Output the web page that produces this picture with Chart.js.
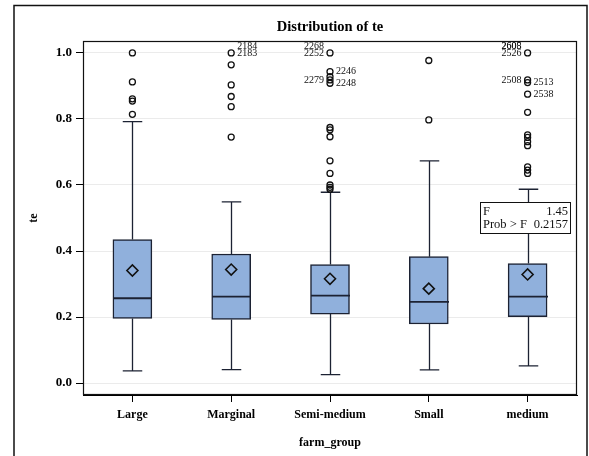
<!DOCTYPE html>
<html>
<head>
<meta charset="utf-8">
<script src="https://cdn.jsdelivr.net/npm/chart.js@4/dist/chart.umd.min.js"></script>
<style>
	html, body { margin: 0; padding: 0; background: #fff; }
	#chart-box { width: 589px; height: 456px; position: relative; }
</style>
</head>
<body>
<div id="chart-box"><canvas id="te-chart"></canvas></div>
<script>
// data
const categories   = ['Large', 'Marginal', 'Semi-medium', 'Small', 'medium'];
const q1Values     = [0.196, 0.193, 0.209, 0.179, 0.201];
const medianValues = [0.257, 0.262, 0.265, 0.246, 0.262];
const q3Values     = [0.435, 0.391, 0.359, 0.383, 0.362];
const meanValues   = [0.341, 0.344, 0.316, 0.286, 0.329];
const whiskerLow   = [0.037, 0.041, 0.026, 0.040, 0.052];
const whiskerHigh  = [0.792, 0.549, 0.578, 0.673, 0.587];
const outlierValues = [
	[1.0, 0.912, 0.861, 0.854, 0.814],
	[1.0, 0.964, 0.903, 0.868, 0.837, 0.745],
	[1.0, 0.943, 0.928, 0.918, 0.908, 0.774, 0.767, 0.746, 0.673, 0.635, 0.600, 0.593, 0.587],
	[0.977, 0.797],
	[1.0, 0.918, 0.910, 0.875, 0.820, 0.752, 0.744, 0.731, 0.719, 0.655, 0.645, 0.635]
];
// outlier id labels
const idCategories = ['Marginal', 'Marginal', 'Semi-medium', 'Semi-medium', 'Semi-medium', 'Semi-medium', 'Semi-medium', 'medium', 'medium', 'medium', 'medium', 'medium', 'medium'];
const idValues     = [1.0, 1.0, 1.0, 1.0, 0.943, 0.918, 0.908, 1.0, 1.0, 1.0, 0.918, 0.910, 0.875];
const idTexts      = ['2184', '2183', '2268', '2252', '2246', '2279', '2248', '2605', '2608', '2526', '2508', '2513', '2538'];
const yTicks       = [0.0, 0.2, 0.4, 0.6, 0.8, 1.0];
const statLabels   = ['F', 'Prob > F'];
const statValues   = ['1.45', '0.2157'];

const serif = '"Liberation Serif", "DejaVu Serif", serif';
const boxFill = '#90B0DC';
const lineDark = '#1c2233';

// labels drawn on the left of their point
const leftSideIds = ['2268', '2252', '2279', '2605', '2608', '2526', '2508'];

const boxParts = {
	id: 'boxParts',
	afterDatasetDraw(chart, args) {
		if (args.index !== 0) return;
		const ctx = chart.ctx;
		const x = chart.scales.x, y = chart.scales.y;
		const bars = chart.getDatasetMeta(0).data;
		ctx.save();
		ctx.strokeStyle = lineDark;
		ctx.lineWidth = 1.3;
		categories.forEach(function(c, i) {
			const cx = Math.round(x.getPixelForValue(i)) + 0.5;
			const half = bars[i].width / 2;
			const cap = half / 2;
			const lo = y.getPixelForValue(whiskerLow[i]);
			const hi = y.getPixelForValue(whiskerHigh[i]);
			const b1 = y.getPixelForValue(q1Values[i]);
			const b3 = y.getPixelForValue(q3Values[i]);
			ctx.beginPath();
			ctx.moveTo(cx, b1); ctx.lineTo(cx, lo);
			ctx.moveTo(cx - cap, lo); ctx.lineTo(cx + cap, lo);
			ctx.moveTo(cx, b3); ctx.lineTo(cx, hi);
			ctx.moveTo(cx - cap, hi); ctx.lineTo(cx + cap, hi);
			ctx.stroke();
			// median
			const my = y.getPixelForValue(medianValues[i]);
			ctx.lineWidth = 1.8;
			ctx.beginPath();
			ctx.moveTo(cx - half, my); ctx.lineTo(cx + half, my);
			ctx.stroke();
			ctx.lineWidth = 1.3;
		});
		ctx.restore();
	}
};

const frameAndNotes = {
	id: 'frameAndNotes',
	afterDraw(chart) {
		const ctx = chart.ctx;
		const a = chart.chartArea;
		const x = chart.scales.x, y = chart.scales.y;
		ctx.save();
		// outer frame
		ctx.strokeStyle = '#111';
		ctx.lineWidth = 1.5;
		ctx.beginPath();
		ctx.moveTo(14, 460); ctx.lineTo(14, 5.5); ctx.lineTo(587, 5.5); ctx.lineTo(587, 460);
		ctx.stroke();
		// plot frame
		ctx.lineWidth = 1.2;
		ctx.strokeRect(a.left + 0.5, a.top + 0.5, a.right - a.left - 1, a.bottom - a.top - 1);

		// outlier ids
		ctx.fillStyle = '#111';
		ctx.font = '10px ' + serif;
		ctx.textBaseline = 'middle';
		idTexts.forEach(function(t, i) {
			const key = idCategories[i] + idValues[i];
			const count = idTexts.filter(function(u, j) { return j > i && idCategories[j] + idValues[j] === key; }).length;
			const px = x.getPixelForValue(categories.indexOf(idCategories[i]));
			const py = y.getPixelForValue(idValues[i]) - (count > 0 ? 7 : 0);
			if (leftSideIds.indexOf(t) >= 0) {
				ctx.textAlign = 'right';
				ctx.fillText(t, px - 6, py);
			} else {
				ctx.textAlign = 'left';
				ctx.fillText(t, px + 6, py);
			}
		});

		// F test inset
		const bw = 90, bh = 31;
		const bx = a.right - 7 - bw, by = a.top + 161;
		ctx.fillStyle = '#fff';
		ctx.fillRect(bx, by, bw, bh);
		ctx.lineWidth = 1;
		ctx.strokeStyle = '#111';
		ctx.strokeRect(bx + 0.5, by + 0.5, bw, bh);
		ctx.fillStyle = '#111';
		ctx.font = '12.5px ' + serif;
		statLabels.forEach(function(l, i) {
			const ty = by + 9.5 + i * 13.5;
			ctx.textAlign = 'left';
			ctx.fillText(l, bx + 3, ty);
			ctx.textAlign = 'right';
			ctx.fillText(statValues[i], bx + bw - 2, ty);
		});
		ctx.restore();
	}
};

const bgPlugin = {
	id: 'bg',
	beforeDraw(chart) {
		const ctx = chart.ctx;
		ctx.save();
		ctx.fillStyle = '#fff';
		ctx.fillRect(0, 0, chart.width, chart.height);
		ctx.restore();
	}
};

const teChartOptions = {
	responsive: true,
	maintainAspectRatio: false,
	animation: false,
	layout: {
		padding: { left: 26, right: 12, top: 0, bottom: 0 }
	},
	plugins: {
		legend: { display: false },
		tooltip: { enabled: false },
		title: {
			display: true,
			text: 'Distribution of te',
			fullSize: false,
			color: '#000',
			font: { family: serif, size: 14.5, weight: 'bold' },
			padding: { top: 19, bottom: 4.6 }
		}
	},
	scales: {
		x: {
			type: 'category',
			offset: true,
			afterFit: function(scale) { scale.height = 61; },
			grid: {
				drawOnChartArea: false,
				drawTicks: true,
				tickLength: 7,
				tickColor: '#000',
				offset: false
			},
			border: { display: true, color: '#000', width: 1 },
			ticks: {
				color: '#000',
				padding: 6,
				maxRotation: 0,
				font: { family: serif, size: 12, weight: 'bold' }
			},
			title: {
				display: true,
				text: 'farm_group',
				color: '#000',
				font: { family: serif, size: 12, weight: 'bold' },
				padding: { top: 0, bottom: 6 }
			}
		},
		y: {
			min: -0.036,
			max: 1.036,
			afterFit: function(scale) { scale.width = 57; },
			afterBuildTicks: function(scale) {
				scale.ticks = yTicks.map(function(v) { return { value: v }; });
			},
			grid: {
				color: '#ebebeb',
				tickColor: '#000',
				tickLength: 7,
				drawTicks: true
			},
			border: { display: true, color: '#000', width: 1 },
			ticks: {
				color: '#000',
				padding: 4,
				font: { family: serif, size: 13, weight: 'bold' },
				callback: function(v) { return Number(v).toFixed(1); }
			},
			title: {
				display: true,
				text: 'te',
				color: '#000',
				font: { family: serif, size: 12, weight: 'bold' },
				padding: { top: 1, bottom: 0 }
			}
		}
	}
};

const outlierPoints = [];
outlierValues.forEach(function(list, i) {
	list.forEach(function(v) { outlierPoints.push({ x: categories[i], y: v }); });
});

new Chart(document.getElementById('te-chart'), {
	type: 'bar',
	data: {
		labels: categories,
		datasets: [
			{
				type: 'bar',
				label: 'box',
				data: q1Values.map(function(v, i) { return [v, q3Values[i]]; }),
				backgroundColor: boxFill,
				borderColor: lineDark,
				borderWidth: 1.5,
				borderSkipped: false,
				barThickness: 39,
				order: 3
			},
			{
				type: 'line',
				label: 'mean',
				data: meanValues,
				showLine: false,
				pointStyle: 'rectRot',
				pointRadius: 5.5,
				pointBorderWidth: 1.6,
				pointBorderColor: '#111',
				pointBackgroundColor: 'rgba(0,0,0,0)',
				order: 1
			},
			{
				type: 'line',
				label: 'outliers',
				data: outlierPoints,
				showLine: false,
				pointStyle: 'circle',
				pointRadius: 3,
				pointBorderWidth: 1.3,
				pointBorderColor: '#111',
				pointBackgroundColor: 'rgba(0,0,0,0)',
				order: 2
			}
		]
	},
	options: teChartOptions,
	plugins: [bgPlugin, boxParts, frameAndNotes]
});
</script>
</body>
</html>
